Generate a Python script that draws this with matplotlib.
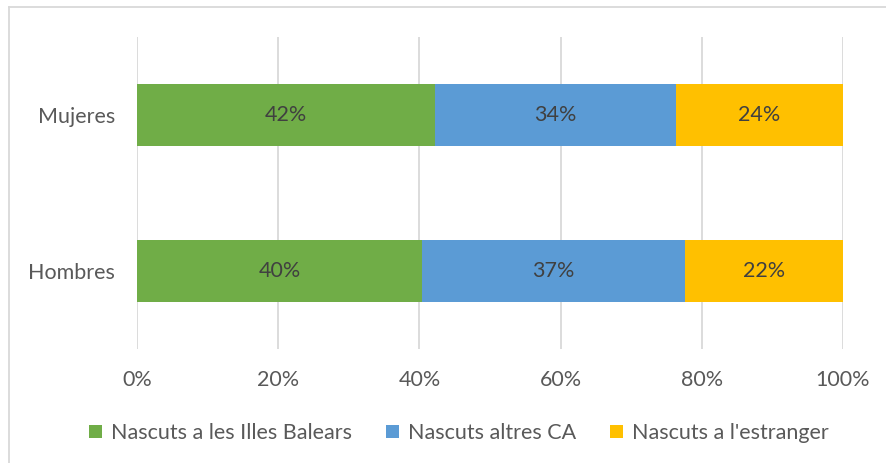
import matplotlib.pyplot as plt
from matplotlib.lines import Line2D
import numpy as np

plt.rcParams['font.family'] = ['Lato', 'DejaVu Sans']

groups = ["Hombres", "Mujeres"]
series = ["Nascuts a les Illes Balears", "Nascuts altres CA", "Nascuts a l'estranger"]
baleares = [40.4, 42.2]
altres_ca = [37.2, 34.1]
estranger = [22.4, 23.7]
colors = ["#70ad47", "#5b9bd5", "#ffc000"]

W, H = 887, 463
FS = 15.5
fig = plt.figure(figsize=(W / 100, H / 100), dpi=100)
ax = fig.add_axes([137 / W, 1 - 349 / H, (843 - 137) / W, (349 - 37) / H])

y = np.arange(len(groups))
left = np.zeros(len(groups))
for vals, name, col in zip([baleares, altres_ca, estranger], series, colors):
    vals = np.array(vals)
    bars = ax.barh(y, vals, left=left, height=0.4, color=col, label=name, zorder=2)
    ax.bar_label(bars, labels=[f"{v:.0f}%" for v in vals], label_type='center',
                 color="#404040", fontsize=FS)
    left += vals

ax.set_xlim(0, 100)
ax.set_ylim(-0.5, 1.5)
ax.set_xticks(np.arange(0, 101, 20))
ax.set_xticklabels([f"{t}%" for t in range(0, 101, 20)])
ax.set_yticks(y)
ax.set_yticklabels(groups)
ax.tick_params(axis='both', length=0, colors="#595959", labelsize=FS)
ax.tick_params(axis='x', pad=15)
ax.tick_params(axis='y', pad=16)
ax.grid(axis='x', color="#d9d9d9", linewidth=1.3, zorder=0)
ax.set_axisbelow(True)
for s in ax.spines.values():
    s.set_visible(False)

leg = fig.legend(loc='center', bbox_to_anchor=(459 / W, 1 - 433 / H), ncol=3,
                 frameon=False, fontsize=FS, handlelength=0.6, handleheight=0.6,
                 handletextpad=0.4, columnspacing=1.6)
for t in leg.get_texts():
    t.set_color("#595959")

# outer chart frame (cropped at right and bottom)
fig.add_artist(Line2D([9 / W, 9 / W], [0, 1 - 7 / H], color="#d9d9d9", linewidth=1.3))
fig.add_artist(Line2D([9 / W, 1], [1 - 7 / H, 1 - 7 / H], color="#d9d9d9", linewidth=1.3))

fig.savefig("out.png", dpi=100)
